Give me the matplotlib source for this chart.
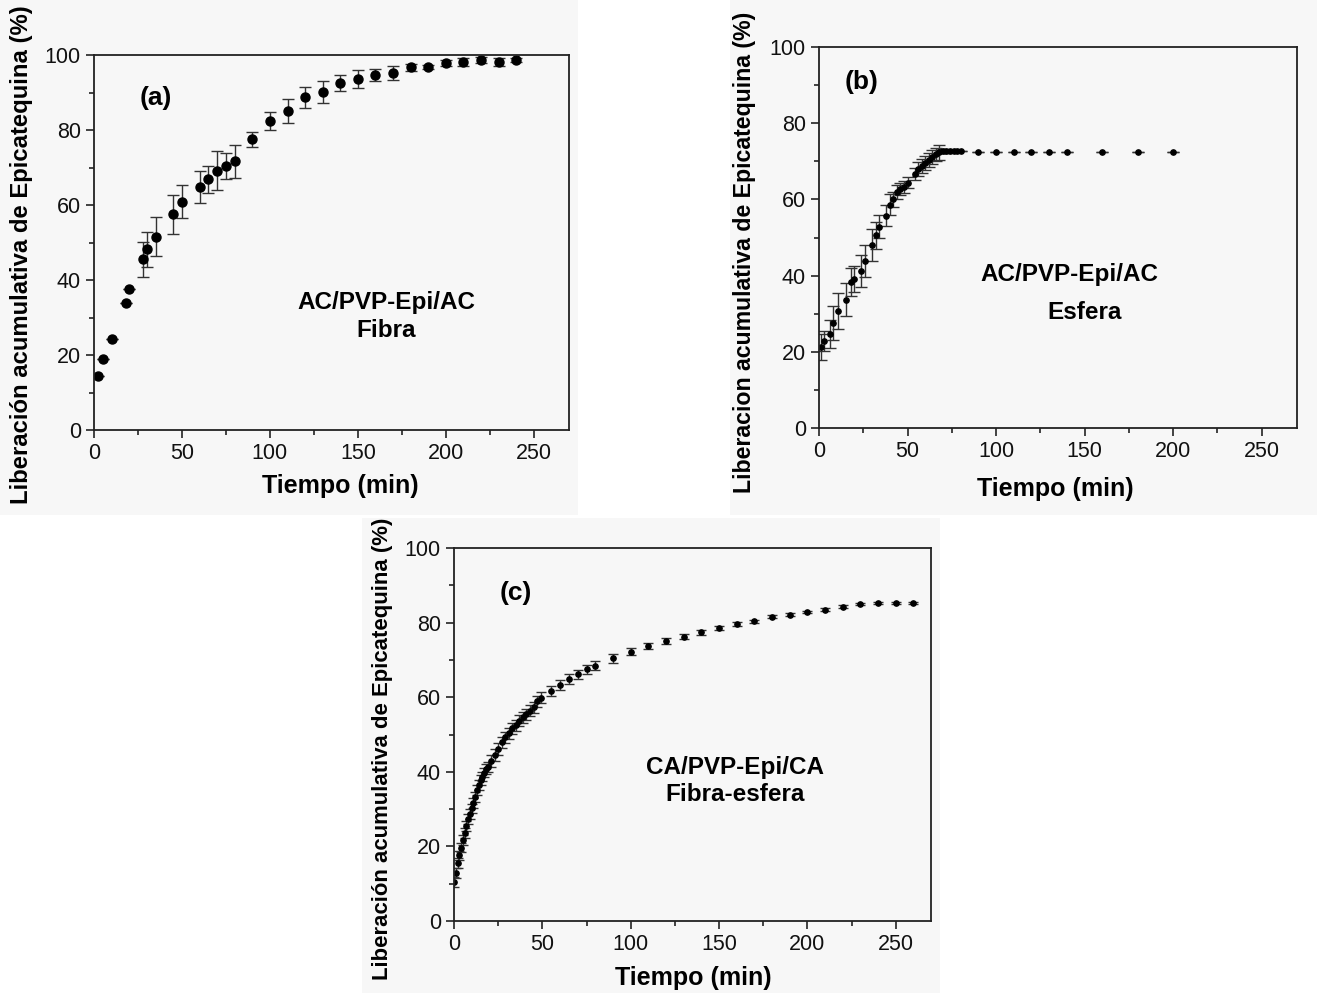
import matplotlib
matplotlib.use("Agg")
import matplotlib.pyplot as plt
from matplotlib.patches import Rectangle
from matplotlib.ticker import MultipleLocator

plt.rcParams['font.family'] = ['Liberation Sans', 'DejaVu Sans']

# ---------------- data ----------------
# (a) AC/PVP-Epi/AC Fibra
t_a = [2, 5, 10, 18, 20, 28, 30, 35, 45, 50, 60, 65, 70, 75, 80, 90, 100, 110, 120, 130,
       140, 150, 160, 170, 180, 190, 200, 210, 220, 230, 240]
y_a = [14.4, 18.9, 24.4, 33.8, 37.5, 45.5, 48.2, 51.6, 57.5, 60.9, 64.9, 66.9, 69.1, 70.5, 71.7,
       77.5, 82.4, 85.1, 88.8, 90.1, 92.6, 93.5, 94.7, 95.3, 96.7, 96.9, 98.0, 98.2, 98.7, 98.2, 98.7]
e_a = [0, 0, 0, 0, 0, 4.7, 4.7, 5.3, 5.2, 4.4, 4.3, 3.6, 5.2, 3.5, 4.4,
       2.1, 2.3, 3.3, 2.8, 3.0, 2.2, 2.4, 1.6, 1.9, 1.0, 0.5, 0.8, 1.0, 0.7, 1.0, 0.5]

# (b) AC/PVP-Epi/AC Esfera
t_b = [1, 3, 6, 8, 11, 15, 18, 20, 24, 26, 30, 32, 34, 38, 40, 42, 44, 46, 48, 50,
       54, 56, 58, 60, 62, 64, 66, 68, 70, 72, 74, 76, 78, 80,
       90, 100, 110, 120, 130, 140, 160, 180, 200]
y_b = [21.3, 22.8, 24.7, 27.6, 30.8, 33.7, 38.3, 39.1, 41.3, 43.8, 48.0, 50.6, 52.8, 55.7, 58.6,
       60.0, 61.9, 62.8, 63.3, 64.4, 66.7, 68.0, 68.8, 69.6, 70.3, 71.2, 71.8, 72.4, 72.6, 72.6,
       72.6, 72.6, 72.6, 72.6, 72.5, 72.5, 72.5, 72.5, 72.5, 72.5, 72.5, 72.5, 72.5]
e_b = [3.4, 2.7, 3.7, 4.4, 4.7, 4.3, 3.6, 3.5, 4.2, 4.2, 4.1, 3.5, 3.0, 2.7, 2.8,
       2.0, 1.8, 1.6, 1.5, 1.5, 1.5, 1.8, 1.8, 1.8, 1.8, 1.8, 1.8, 2.0, 0.5, 0.3,
       0, 0, 0, 0, 0, 0, 0, 0, 0, 0, 0, 0, 0]

# (c) CA/PVP-Epi/CA Fibra-esfera
t_c = [0, 1, 2, 3, 4, 5, 6, 7, 8, 9, 10, 11, 12, 13, 14, 15, 16, 17, 18, 19,
       21, 23, 25, 27, 29, 31, 33, 35, 37, 39, 41, 43, 45, 47, 49,
       55, 60, 65, 70, 75, 80,
       90, 100, 110, 120, 130, 140, 150, 160, 170, 180, 190, 200, 210, 220, 230, 240, 250, 260]
y_c = [10.5, 12.8, 15.5, 17.6, 19.7, 21.7, 23.5, 25.5, 27.3, 28.7, 30.2, 31.7, 33.3, 35.1, 36.5,
       37.8, 38.7, 39.8, 40.7, 41.2,
       42.9, 44.5, 46.1, 47.9, 49.2, 50.3, 51.7, 52.5, 53.7, 54.6, 55.4, 56.4, 57.3, 58.9, 59.9,
       61.7, 63.3, 64.9, 66.1, 67.5, 68.4,
       70.4, 72.2, 73.7, 75.1, 76.2, 77.4, 78.6, 79.6, 80.4, 81.6, 82.1, 82.9, 83.5, 84.3, 85.0,
       85.3, 85.3, 85.3]
e_c = [1.3] * 20 + [1.5] * 15 + [1.4, 1.4, 1.3, 1.3, 1.2, 1.2] + \
      [1.2, 1.0, 0.9, 0.8, 0.7, 0.6, 0.5, 0.5, 0.4, 0.4, 0.4, 0.3, 0.3, 0.3, 0.3, 0.3, 0.3, 0.3]

ylabel_acc = "Liberación acumulativa de Epicatequina (%)"
ylabel_noacc = "Liberacion acumulativa de Epicatequina (%)"
xlabel = "Tiempo (min)"

# ---------------- figure ----------------
W, H = 1317, 993
fig = plt.figure(figsize=(W / 100, H / 100), dpi=100)
fig.patch.set_facecolor('white')

bg = '#f7f7f7'
for (x0, y0, x1, y1) in [(0, 0, 578, 515), (730, 0, 1317, 515), (362, 518, 940, 993)]:
    fig.patches.append(Rectangle((x0 / W, 1 - y1 / H), (x1 - x0) / W, (y1 - y0) / H,
                                 transform=fig.transFigure, facecolor=bg, edgecolor='none',
                                 zorder=-10))


def make_ax(px):
    l, t, r, b = px
    return fig.add_axes([l / W, 1 - b / H, (r - l) / W, (b - t) / H])


def style(ax, ylab, ylab_xy, xlab_xy, ylab_size):
    ax.set_facecolor(bg)
    ax.set_xlim(0, 270)
    ax.set_ylim(0, 100)
    ax.xaxis.set_major_locator(MultipleLocator(50))
    ax.xaxis.set_minor_locator(MultipleLocator(25))
    ax.yaxis.set_major_locator(MultipleLocator(20))
    ax.yaxis.set_minor_locator(MultipleLocator(10))
    ax.tick_params(which='both', direction='out', top=False, right=False, labelsize=15.5,
                   width=1.1, colors='#111111')
    ax.tick_params(which='major', length=6)
    ax.tick_params(which='minor', length=3.5)
    for s in ax.spines.values():
        s.set_linewidth(1.3)
        s.set_color('#222222')
    ax.set_ylabel(ylab, fontsize=ylab_size, fontweight='bold', va='center', ha='center')
    ax.set_xlabel(xlabel, fontsize=18, fontweight='bold', va='center', ha='center')
    ax.yaxis.set_label_coords(*ylab_xy)
    ax.xaxis.set_label_coords(*xlab_xy)


# (a)
axa = make_ax((94, 55, 569, 430))
axa.errorbar(t_a, y_a, yerr=e_a, fmt='o', color='black', ms=6.5, ecolor='#333333',
             elinewidth=1.0, capsize=4.5, capthick=1.0)
style(axa, ylabel_acc, (-0.152, 0.467), (0.518, -0.149), 17.2)
axa.text(0.13, 0.885, "(a)", transform=axa.transAxes, fontsize=19, fontweight='bold',
         ha='center', va='center')
axa.text(0.616, 0.302, "AC/PVP-Epi/AC\nFibra", transform=axa.transAxes, fontsize=17.5,
         fontweight='bold', ha='center', va='center', linespacing=1.25)

# (b)
axb = make_ax((819, 47, 1297, 428))
axb.errorbar(t_b, y_b, yerr=e_b, fmt='o', color='black', ms=3.8, ecolor='#333333',
             elinewidth=1.0, capsize=4, capthick=1.0)
style(axb, ylabel_noacc, (-0.155, 0.462), (0.494, -0.16), 16.7)
axb.text(0.09, 0.908, "(b)", transform=axb.transAxes, fontsize=19, fontweight='bold',
         ha='center', va='center')
axb.text(0.523, 0.402, "AC/PVP-Epi/AC", transform=axb.transAxes, fontsize=17.5,
         fontweight='bold', ha='center', va='center')
axb.text(0.556, 0.302, "Esfera", transform=axb.transAxes, fontsize=17.5,
         fontweight='bold', ha='center', va='center')

# (c)
axc = make_ax((454, 548, 931, 921))
axc.errorbar(t_c, y_c, yerr=e_c, fmt='o', color='black', ms=3.8, ecolor='#333333',
             elinewidth=1.0, capsize=3.5, capthick=1.0)
style(axc, ylabel_acc, (-0.149, 0.4625), (0.501, -0.153), 15.9)
axc.text(0.13, 0.879, "(c)", transform=axc.transAxes, fontsize=19, fontweight='bold',
         ha='center', va='center')
axc.text(0.589, 0.376, "CA/PVP-Epi/CA\nFibra-esfera", transform=axc.transAxes, fontsize=17.5,
         fontweight='bold', ha='center', va='center', linespacing=1.2)

fig.savefig("out.png", dpi=100, facecolor=fig.get_facecolor())
